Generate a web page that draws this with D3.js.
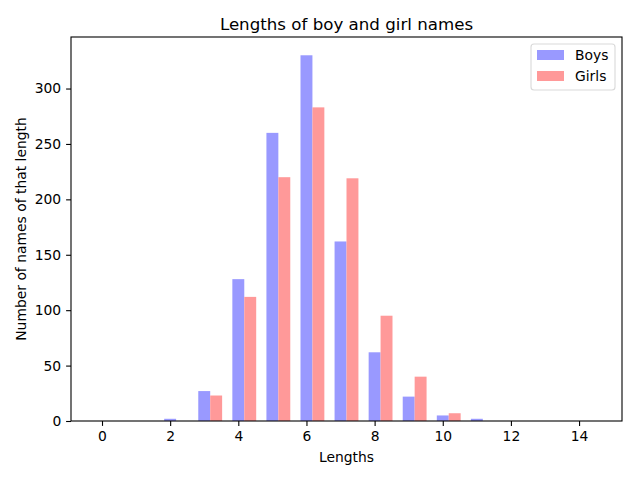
<!DOCTYPE html>
<html><head><meta charset="utf-8">
<script src="https://cdn.jsdelivr.net/npm/d3@7"></script>
<style>body{margin:0;background:#fff}text{font-family:"DejaVu Sans",sans-serif}</style>
</head><body><svg id="c" width="640" height="480"></svg>
<script>
const lengths = [0,1,2,3,4,5,6,7,8,9,10,11,12,13,14];
const boys  = [0,0,2,27,128,260,330,162,62,22,5,2,0,0,0];
const girls = [0,0,0,23,112,220,283,219,95,40,7,0,0,0,0];
const xTicks = [0,2,4,6,8,10,12,14];
const yTicks = [0,50,100,150,200,250,300];
const barW = 0.35;

const svg = d3.select("#c");
const L=71,R=622,T=37,B=421;
const FS=13.89;
const x = d3.scaleLinear().domain([-0.91,15.26]).range([L,R]);
const y = d3.scaleLinear().domain([0,346.5]).range([B,T]);

const g = svg.append("g");
g.selectAll("rect.b").data(lengths).enter().append("rect")
  .attr("x",(d)=>x(d-barW/2)).attr("width",(d)=>x(d+barW/2)-x(d-barW/2))
  .attr("y",(d,i)=>y(boys[i])).attr("height",(d,i)=>y(0)-y(boys[i]))
  .attr("fill","#9999ff");
g.selectAll("rect.g").data(lengths).enter().append("rect")
  .attr("x",(d)=>x(d+barW/2)).attr("width",(d)=>x(d+barW*1.5)-x(d+barW/2))
  .attr("y",(d,i)=>y(girls[i])).attr("height",(d,i)=>y(0)-y(girls[i]))
  .attr("fill","#ff9999");

const xa = svg.append("g").attr("transform",`translate(0,${B})`)
  .call(d3.axisBottom(x).tickValues(xTicks).tickSize(4.9).tickPadding(4.9).tickSizeOuter(0));
const ya = svg.append("g").attr("transform",`translate(${L},0)`)
  .call(d3.axisLeft(y).tickValues(yTicks).tickSize(4.9).tickPadding(4.9).tickSizeOuter(0));
[xa,ya].forEach(a=>{a.select(".domain").remove();
  a.attr("font-size",FS);
  a.selectAll("text").attr("fill","#000").style("font-family","DejaVu Sans");
  a.selectAll("line").attr("stroke","#000").attr("stroke-width",1.1);});

svg.append("rect").attr("x",L).attr("y",T).attr("width",R-L).attr("height",B-T)
  .attr("fill","none").attr("stroke","#000").attr("stroke-width",1.1);

svg.append("text").attr("x",(L+R)/2).attr("y",30).attr("text-anchor","middle")
  .attr("font-size",16.67).text("Lengths of boy and girl names");
svg.append("text").attr("x",(L+R)/2).attr("y",462).attr("text-anchor","middle")
  .attr("font-size",FS).text("Lengths");
svg.append("text").attr("transform",`translate(26,${(T+B)/2}) rotate(-90)`).attr("text-anchor","middle")
  .attr("font-size",FS).text("Number of names of that length");

const lg = svg.append("g");
lg.append("rect").attr("x",531).attr("y",44).attr("width",84).attr("height",46).attr("rx",3)
  .attr("fill","#fff").attr("fill-opacity",0.8).attr("stroke","#d9d9d9").attr("stroke-width",1.1);
const series=[["Boys","#9999ff"],["Girls","#ff9999"]];
series.forEach((s,i)=>{
  lg.append("rect").attr("x",537).attr("y",50+i*21).attr("width",27).attr("height",10).attr("fill",s[1]);
  lg.append("text").attr("x",575).attr("y",60+i*21).attr("font-size",FS).text(s[0]);
});
</script></body></html>
